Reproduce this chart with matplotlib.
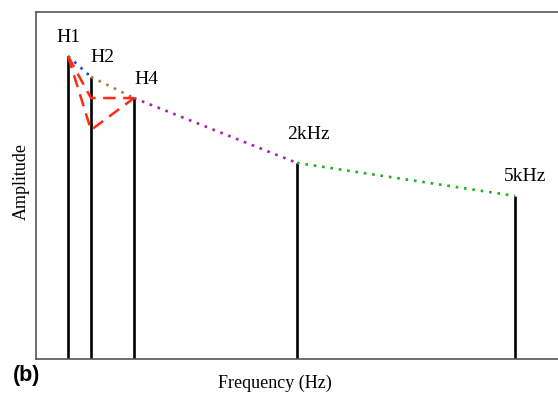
import matplotlib
matplotlib.use("Agg")
import matplotlib.pyplot as plt

labels = ["H1", "H2", "H4", "2kHz", "5kHz"]
freqs = [32, 55, 98, 261, 479]
amps = [0.873, 0.813, 0.752, 0.565, 0.470]
seg_colors = ["#1f3fff", "#b07a40", "#a020b0", "#20b020"]
red_path1_amp = [0.873, 0.752, 0.752]
red_path2_amp = [0.873, 0.660, 0.752]
red_path_x = [32, 55, 98]
label_offsets = [(0, 10), (8.6, 10.8), (8.6, 10), (8, 17), (7.2, 10.8)]

fig = plt.figure(figsize=(5.58, 3.94), dpi=100)
ax = fig.add_axes([36/558, 35/394, 524/558, 347/394])

for f, a in zip(freqs, amps):
    ax.plot([f, f], [0, a], color="black", lw=1.9, solid_capstyle="butt")

for i in range(len(freqs) - 1):
    ax.plot(freqs[i:i+2], amps[i:i+2], color=seg_colors[i], lw=1.9,
            linestyle=(0, (1, 2.2)))

ax.plot(red_path_x, red_path1_amp, color="#ff2a10", lw=1.8, linestyle=(0, (5, 3)))
ax.plot(red_path_x, red_path2_amp, color="#ff2a10", lw=1.8, linestyle=(0, (5, 3)))

for lab, f, a, off in zip(labels, freqs, amps, label_offsets):
    ax.annotate(lab, (f, a), xytext=off, textcoords="offset points",
                ha="center", va="baseline", fontsize=14, family="Liberation Serif")

ax.set_xlim(0, 524)
ax.set_ylim(0, 1)
ax.set_xticks([])
ax.set_yticks([])
for s in ax.spines.values():
    s.set_color("#555555")
    s.set_linewidth(1.2)

fig.text(275/558, 1 - 383/394, "Frequency (Hz)", fontsize=13,
         family="Liberation Serif", ha="center", va="center")
fig.text(21/558, 1 - 181/394, "Amplitude", fontsize=13, rotation=90,
         family="Liberation Serif", ha="center", va="center")
fig.text(13/558, 1 - 376/394, "(b)", fontsize=15.5, fontweight="bold",
         family="Liberation Sans", va="center", ha="left")

fig.savefig("out.png", dpi=100)
